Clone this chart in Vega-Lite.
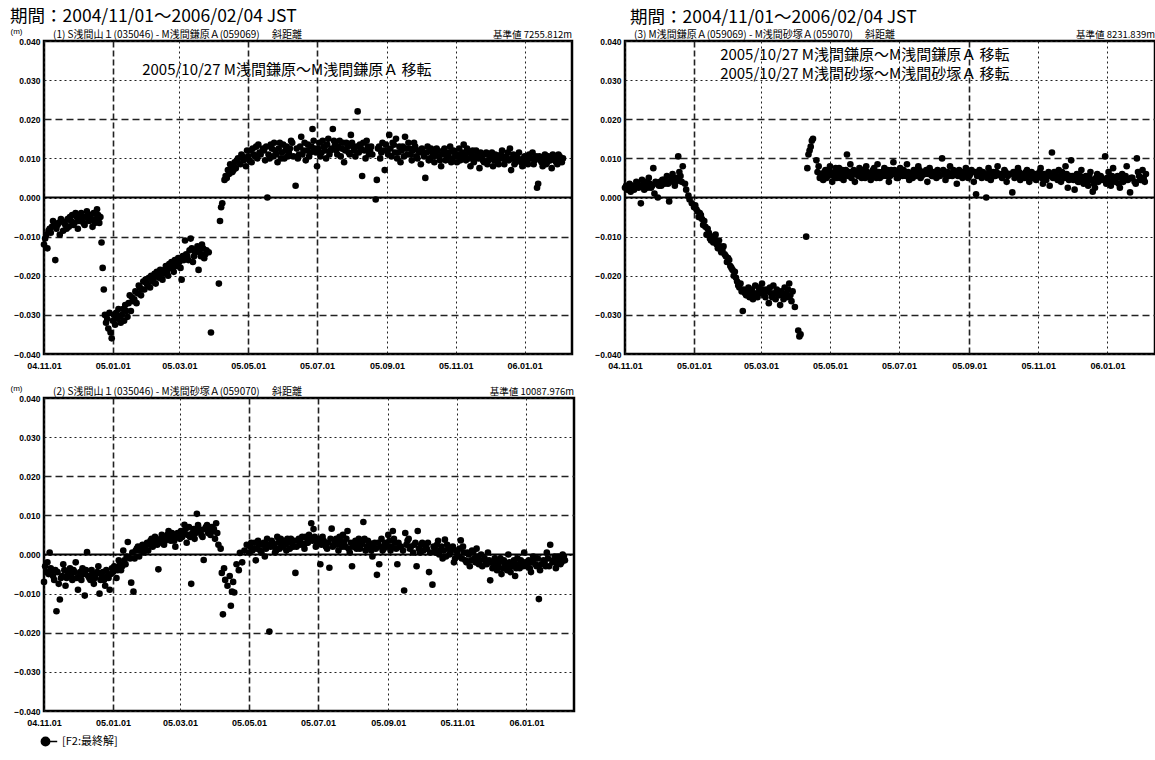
{
  "$schema": "https://vega.github.io/schema/vega-lite/v6.json",
  "background": "white",
  "padding": {"left": 8, "top": 6, "right": 2, "bottom": 2},
  "bounds": "flush",
  "columns": 2,
  "spacing": {"row": 44, "column": 51},
  "resolve": {"scale": {"x": "independent", "y": "independent", "color": "independent"}},
  "config": {
    "font": "Liberation Sans",
    "view": {"stroke": "black", "strokeWidth": 2.5},
    "axis": {"labelColor": "black", "labelFontSize": 8.5, "labelFont": "Liberation Sans", "labelFontWeight": "bold", "ticks": false, "domain": false, "grid": true, "gridColor": "#222", "gridWidth": 1, "labelPadding": 4},
    "axisX": {"labelPadding": 7, "labelFlush": false, "labelOverlap": false, "labelFontSize": 9},
    "axisY": {"labelOverlap": false, "tickCount": 12},
    "title": {"font": "Noto Sans CJK JP", "fontSize": 17.5, "fontWeight": "normal", "color": "black", "anchor": "start"}
  },
  "datasets": {
    "p1": [
      {"t":"2004-11-01","v":-0.0120},{"t":"2004-11-02","v":-0.0105},{"t":"2004-11-03","v":-0.0095},{"t":"2004-11-04","v":-0.0130},{"t":"2004-11-05","v":-0.0085},{"t":"2004-11-07","v":-0.0090},{"t":"2004-11-08","v":-0.0075},{"t":"2004-11-10","v":-0.0070},{"t":"2004-11-11","v":-0.0160},{"t":"2004-11-12","v":-0.0080},{"t":"2004-11-14","v":-0.0065},{"t":"2004-11-15","v":-0.0095},{"t":"2004-11-17","v":-0.0060},{"t":"2004-11-18","v":-0.0085},{"t":"2004-11-20","v":-0.0070},{"t":"2004-11-22","v":-0.0055},{"t":"2004-11-23","v":-0.0075},{"t":"2004-11-25","v":-0.0060},{"t":"2004-11-26","v":-0.0045},{"t":"2004-11-28","v":-0.0065},{"t":"2004-11-30","v":-0.0050},
      {"t":"2004-11-06","v":-0.0080},{"t":"2004-11-09","v":-0.0060},{"t":"2004-11-13","v":-0.0070},{"t":"2004-11-16","v":-0.0055},{"t":"2004-11-19","v":-0.0065},{"t":"2004-11-21","v":-0.0080},{"t":"2004-11-24","v":-0.0050},{"t":"2004-11-27","v":-0.0070},{"t":"2004-11-29","v":-0.0040},{"t":"2004-12-02","v":-0.0060},{"t":"2004-12-05","v":-0.0050},{"t":"2004-12-07","v":-0.0070},{"t":"2004-12-10","v":-0.0045},{"t":"2004-12-13","v":-0.0055},{"t":"2004-12-16","v":-0.0065},{"t":"2004-12-19","v":-0.0045},
      {"t":"2004-12-01","v":-0.0080},{"t":"2004-12-03","v":-0.0055},{"t":"2004-12-04","v":-0.0040},{"t":"2004-12-06","v":-0.0065},{"t":"2004-12-08","v":-0.0050},{"t":"2004-12-09","v":-0.0035},{"t":"2004-12-11","v":-0.0060},{"t":"2004-12-12","v":-0.0045},{"t":"2004-12-14","v":-0.0075},{"t":"2004-12-15","v":-0.0040},{"t":"2004-12-17","v":-0.0055},{"t":"2004-12-18","v":-0.0030},{"t":"2004-12-20","v":-0.0065},{"t":"2004-12-21","v":-0.0050},{"t":"2004-12-22","v":-0.0115},{"t":"2004-12-23","v":-0.0180},{"t":"2004-12-24","v":-0.0235},{"t":"2004-12-25","v":-0.0300},{"t":"2004-12-26","v":-0.0320},{"t":"2004-12-27","v":-0.0310},{"t":"2004-12-28","v":-0.0335},{"t":"2004-12-29","v":-0.0295},{"t":"2004-12-30","v":-0.0345},{"t":"2004-12-31","v":-0.0360},
      {"t":"2005-01-01","v":-0.0315},{"t":"2005-01-02","v":-0.0300},{"t":"2005-01-03","v":-0.0325},{"t":"2005-01-05","v":-0.0310},{"t":"2005-01-06","v":-0.0285},{"t":"2005-01-08","v":-0.0320},{"t":"2005-01-09","v":-0.0300},{"t":"2005-01-11","v":-0.0315},{"t":"2005-01-12","v":-0.0275},{"t":"2005-01-14","v":-0.0305},{"t":"2005-01-16","v":-0.0250},{"t":"2005-01-17","v":-0.0290},{"t":"2005-01-19","v":-0.0265},{"t":"2005-01-21","v":-0.0240},{"t":"2005-01-22","v":-0.0270},{"t":"2005-01-24","v":-0.0225},{"t":"2005-01-26","v":-0.0250},{"t":"2005-01-28","v":-0.0215},{"t":"2005-01-29","v":-0.0235},{"t":"2005-01-31","v":-0.0220},
      {"t":"2005-01-04","v":-0.0295},{"t":"2005-01-07","v":-0.0305},{"t":"2005-01-10","v":-0.0285},{"t":"2005-01-13","v":-0.0290},{"t":"2005-01-15","v":-0.0270},{"t":"2005-01-18","v":-0.0255},{"t":"2005-01-20","v":-0.0260},{"t":"2005-01-23","v":-0.0245},{"t":"2005-01-25","v":-0.0230},{"t":"2005-01-27","v":-0.0235},{"t":"2005-01-30","v":-0.0210},{"t":"2005-02-01","v":-0.0225},{"t":"2005-02-04","v":-0.0200},{"t":"2005-02-06","v":-0.0210},{"t":"2005-02-09","v":-0.0190},{"t":"2005-02-11","v":-0.0205},{"t":"2005-02-13","v":-0.0195},{"t":"2005-02-16","v":-0.0185},{"t":"2005-02-18","v":-0.0190},{"t":"2005-02-20","v":-0.0170},{"t":"2005-02-23","v":-0.0180},{"t":"2005-02-25","v":-0.0160},{"t":"2005-02-27","v":-0.0175},{"t":"2005-03-01","v":-0.0165},{"t":"2005-03-04","v":-0.0150},{"t":"2005-03-07","v":-0.0145},{"t":"2005-03-09","v":-0.0160},{"t":"2005-03-12","v":-0.0130},{"t":"2005-03-14","v":-0.0150},{"t":"2005-03-16","v":-0.0135},{"t":"2005-03-19","v":-0.0140},{"t":"2005-03-21","v":-0.0120},{"t":"2005-03-23","v":-0.0155},{"t":"2005-03-25","v":-0.0135},
      {"t":"2005-02-02","v":-0.0205},{"t":"2005-02-03","v":-0.0230},{"t":"2005-02-05","v":-0.0215},{"t":"2005-02-07","v":-0.0195},{"t":"2005-02-08","v":-0.0220},{"t":"2005-02-10","v":-0.0200},{"t":"2005-02-12","v":-0.0185},{"t":"2005-02-14","v":-0.0210},{"t":"2005-02-15","v":-0.0195},{"t":"2005-02-17","v":-0.0175},{"t":"2005-02-19","v":-0.0200},{"t":"2005-02-21","v":-0.0180},{"t":"2005-02-22","v":-0.0165},{"t":"2005-02-24","v":-0.0190},{"t":"2005-02-26","v":-0.0170},{"t":"2005-02-28","v":-0.0155},
      {"t":"2005-03-02","v":-0.0180},{"t":"2005-03-03","v":-0.0210},{"t":"2005-03-05","v":-0.0160},{"t":"2005-03-06","v":-0.0110},{"t":"2005-03-08","v":-0.0150},{"t":"2005-03-10","v":-0.0135},{"t":"2005-03-11","v":-0.0105},{"t":"2005-03-13","v":-0.0165},{"t":"2005-03-15","v":-0.0140},{"t":"2005-03-17","v":-0.0125},{"t":"2005-03-18","v":-0.0185},{"t":"2005-03-20","v":-0.0150},{"t":"2005-03-22","v":-0.0130},{"t":"2005-03-24","v":-0.0145},{"t":"2005-03-27","v":-0.0140},{"t":"2005-03-29","v":-0.0345},
      {"t":"2005-04-05","v":-0.0220},{"t":"2005-04-06","v":-0.0060},{"t":"2005-04-07","v":-0.0025},{"t":"2005-04-08","v":-0.0015},{"t":"2005-04-10","v":0.0045},{"t":"2005-04-11","v":0.0055},{"t":"2005-04-12","v":0.0050},{"t":"2005-04-13","v":0.0070},{"t":"2005-04-14","v":0.0060},{"t":"2005-04-16","v":0.0080},{"t":"2005-04-17","v":0.0065},{"t":"2005-04-19","v":0.0090},{"t":"2005-04-20","v":0.0075},{"t":"2005-04-22","v":0.0100},{"t":"2005-04-24","v":0.0085},{"t":"2005-04-25","v":0.0110},{"t":"2005-04-27","v":0.0095},{"t":"2005-04-29","v":0.0080},
      {"t":"2005-05-01","v":0.0105},{"t":"2005-05-03","v":0.0120},{"t":"2005-05-04","v":0.0090},{"t":"2005-05-06","v":0.0110},{"t":"2005-05-08","v":0.0130},{"t":"2005-05-09","v":0.0100},{"t":"2005-05-11","v":0.0115},{"t":"2005-05-14","v":0.0125},{"t":"2005-05-16","v":0.0095},{"t":"2005-05-18","v":0.0000},{"t":"2005-05-19","v":0.0110},{"t":"2005-05-21","v":0.0135},{"t":"2005-05-23","v":0.0105},{"t":"2005-05-25","v":0.0120},{"t":"2005-05-27","v":0.0090},{"t":"2005-05-29","v":0.0140},{"t":"2005-05-31","v":0.0115},
      {"t":"2005-06-02","v":0.0100},{"t":"2005-06-04","v":0.0130},{"t":"2005-06-06","v":0.0115},{"t":"2005-06-08","v":0.0145},{"t":"2005-06-10","v":0.0105},{"t":"2005-06-12","v":0.0030},{"t":"2005-06-13","v":0.0125},{"t":"2005-06-15","v":0.0110},{"t":"2005-06-17","v":0.0155},{"t":"2005-06-19","v":0.0120},{"t":"2005-06-21","v":0.0095},{"t":"2005-06-23","v":0.0135},{"t":"2005-06-25","v":0.0115},{"t":"2005-06-27","v":0.0175},{"t":"2005-06-29","v":0.0125},
      {"t":"2005-07-01","v":0.0080},{"t":"2005-07-03","v":0.0140},{"t":"2005-07-05","v":0.0115},{"t":"2005-07-07","v":0.0130},{"t":"2005-07-09","v":0.0100},{"t":"2005-07-11","v":0.0150},{"t":"2005-07-13","v":0.0120},{"t":"2005-07-15","v":0.0175},{"t":"2005-07-17","v":0.0135},{"t":"2005-07-19","v":0.0110},{"t":"2005-07-21","v":0.0145},{"t":"2005-07-23","v":0.0125},{"t":"2005-07-25","v":0.0090},{"t":"2005-07-27","v":0.0140},{"t":"2005-07-29","v":0.0115},{"t":"2005-07-31","v":0.0160},
      {"t":"2005-08-02","v":0.0130},{"t":"2005-08-04","v":0.0105},{"t":"2005-08-06","v":0.0220},{"t":"2005-08-08","v":0.0135},{"t":"2005-08-10","v":0.0055},{"t":"2005-08-12","v":0.0120},{"t":"2005-08-14","v":0.0145},{"t":"2005-08-16","v":0.0110},{"t":"2005-08-18","v":0.0130},{"t":"2005-08-22","v":-0.0005},{"t":"2005-08-23","v":0.0045},{"t":"2005-08-24","v":0.0125},{"t":"2005-08-26","v":0.0100},{"t":"2005-08-28","v":0.0140},{"t":"2005-08-30","v":0.0070},
      {"t":"2005-09-01","v":0.0120},{"t":"2005-09-03","v":0.0160},{"t":"2005-09-05","v":0.0105},{"t":"2005-09-07","v":0.0135},{"t":"2005-09-09","v":0.0150},{"t":"2005-09-11","v":0.0115},{"t":"2005-09-13","v":0.0090},{"t":"2005-09-15","v":0.0130},{"t":"2005-09-17","v":0.0155},{"t":"2005-09-19","v":0.0110},{"t":"2005-09-21","v":0.0125},{"t":"2005-09-23","v":0.0095},{"t":"2005-09-25","v":0.0140},{"t":"2005-09-27","v":0.0105},{"t":"2005-09-29","v":0.0120},
      {"t":"2005-10-01","v":0.0085},{"t":"2005-10-03","v":0.0115},{"t":"2005-10-05","v":0.0050},{"t":"2005-10-07","v":0.0130},{"t":"2005-10-09","v":0.0100},{"t":"2005-10-11","v":0.0115},{"t":"2005-10-13","v":0.0090},{"t":"2005-10-15","v":0.0125},{"t":"2005-10-17","v":0.0105},{"t":"2005-10-19","v":0.0080},{"t":"2005-10-21","v":0.0120},{"t":"2005-10-23","v":0.0095},{"t":"2005-10-25","v":0.0110},{"t":"2005-10-27","v":0.0130},{"t":"2005-10-29","v":0.0100},{"t":"2005-10-31","v":0.0115},
      {"t":"2005-11-02","v":0.0090},{"t":"2005-11-04","v":0.0125},{"t":"2005-11-06","v":0.0105},{"t":"2005-11-08","v":0.0135},{"t":"2005-11-10","v":0.0095},{"t":"2005-11-12","v":0.0115},{"t":"2005-11-14","v":0.0080},{"t":"2005-11-16","v":0.0120},{"t":"2005-11-18","v":0.0100},{"t":"2005-11-20","v":0.0110},{"t":"2005-11-22","v":0.0075},{"t":"2005-11-24","v":0.0105},{"t":"2005-11-26","v":0.0090},{"t":"2005-11-28","v":0.0115},{"t":"2005-11-30","v":0.0095},
      {"t":"2005-12-02","v":0.0105},{"t":"2005-12-04","v":0.0080},{"t":"2005-12-06","v":0.0110},{"t":"2005-12-08","v":0.0090},{"t":"2005-12-10","v":0.0100},{"t":"2005-12-12","v":0.0120},{"t":"2005-12-14","v":0.0085},{"t":"2005-12-16","v":0.0105},{"t":"2005-12-18","v":0.0095},{"t":"2005-12-19","v":0.0125},{"t":"2005-12-20","v":0.0070},{"t":"2005-12-22","v":0.0110},{"t":"2005-12-24","v":0.0090},{"t":"2005-12-26","v":0.0100},{"t":"2005-12-28","v":0.0095},{"t":"2005-12-30","v":0.0080},
      {"t":"2006-01-01","v":0.0105},{"t":"2006-01-03","v":0.0090},{"t":"2006-01-05","v":0.0110},{"t":"2006-01-07","v":0.0100},{"t":"2006-01-09","v":0.0085},{"t":"2006-01-11","v":0.0105},{"t":"2006-01-12","v":0.0025},{"t":"2006-01-13","v":0.0035},{"t":"2006-01-15","v":0.0095},{"t":"2006-01-17","v":0.0080},{"t":"2006-01-19","v":0.0110},{"t":"2006-01-21","v":0.0090},{"t":"2006-01-23","v":0.0100},{"t":"2006-01-25","v":0.0075},{"t":"2006-01-27","v":0.0105},{"t":"2006-01-29","v":0.0090},{"t":"2006-01-31","v":0.0110},{"t":"2006-02-02","v":0.0095},{"t":"2006-02-04","v":0.0100},
      {"t":"2005-04-15","v":0.0085},{"t":"2005-04-18","v":0.0070},{"t":"2005-04-21","v":0.0095},{"t":"2005-04-26","v":0.0105},{"t":"2005-04-30","v":0.0120},{"t":"2005-05-02","v":0.0095},{"t":"2005-05-05","v":0.0125},{"t":"2005-05-07","v":0.0105},{"t":"2005-05-10","v":0.0135},{"t":"2005-05-12","v":0.0110},{"t":"2005-05-15","v":0.0120},{"t":"2005-05-17","v":0.0130},{"t":"2005-05-20","v":0.0100},{"t":"2005-05-22","v":0.0125},{"t":"2005-05-24","v":0.0140},{"t":"2005-05-26","v":0.0110},{"t":"2005-05-28","v":0.0125},{"t":"2005-05-30","v":0.0100},
      {"t":"2005-06-01","v":0.0135},{"t":"2005-06-03","v":0.0120},{"t":"2005-06-05","v":0.0105},{"t":"2005-06-07","v":0.0125},{"t":"2005-06-09","v":0.0140},{"t":"2005-06-14","v":0.0100},{"t":"2005-06-16","v":0.0130},{"t":"2005-06-18","v":0.0110},{"t":"2005-06-20","v":0.0140},{"t":"2005-06-22","v":0.0120},{"t":"2005-06-24","v":0.0105},{"t":"2005-06-26","v":0.0130},{"t":"2005-06-28","v":0.0145},{"t":"2005-06-30","v":0.0115},
      {"t":"2005-07-02","v":0.0125},{"t":"2005-07-04","v":0.0105},{"t":"2005-07-06","v":0.0145},{"t":"2005-07-08","v":0.0120},{"t":"2005-07-10","v":0.0135},{"t":"2005-07-12","v":0.0110},{"t":"2005-07-14","v":0.0125},{"t":"2005-07-16","v":0.0145},{"t":"2005-07-18","v":0.0120},{"t":"2005-07-20","v":0.0130},{"t":"2005-07-22","v":0.0105},{"t":"2005-07-24","v":0.0140},{"t":"2005-07-26","v":0.0120},{"t":"2005-07-28","v":0.0130},{"t":"2005-07-30","v":0.0110},
      {"t":"2005-08-01","v":0.0140},{"t":"2005-08-03","v":0.0120},{"t":"2005-08-05","v":0.0130},{"t":"2005-08-07","v":0.0115},{"t":"2005-08-09","v":0.0125},{"t":"2005-08-11","v":0.0140},{"t":"2005-08-13","v":0.0100},{"t":"2005-08-15","v":0.0130},{"t":"2005-08-17","v":0.0120},{"t":"2005-08-19","v":0.0110},{"t":"2005-08-25","v":0.0130},{"t":"2005-08-27","v":0.0115},{"t":"2005-08-29","v":0.0120},{"t":"2005-08-31","v":0.0135},
      {"t":"2005-09-02","v":0.0110},{"t":"2005-09-04","v":0.0125},{"t":"2005-09-06","v":0.0140},{"t":"2005-09-08","v":0.0115},{"t":"2005-09-10","v":0.0100},{"t":"2005-09-12","v":0.0130},{"t":"2005-09-14","v":0.0120},{"t":"2005-09-16","v":0.0105},{"t":"2005-09-18","v":0.0125},{"t":"2005-09-20","v":0.0140},{"t":"2005-09-22","v":0.0110},{"t":"2005-09-24","v":0.0120},{"t":"2005-09-26","v":0.0130},{"t":"2005-09-28","v":0.0100},{"t":"2005-09-30","v":0.0115},
      {"t":"2005-10-02","v":0.0125},{"t":"2005-10-04","v":0.0105},{"t":"2005-10-06","v":0.0115},{"t":"2005-10-08","v":0.0095},{"t":"2005-10-10","v":0.0125},{"t":"2005-10-12","v":0.0105},{"t":"2005-10-14","v":0.0110},{"t":"2005-10-16","v":0.0120},{"t":"2005-10-18","v":0.0095},{"t":"2005-10-20","v":0.0110},{"t":"2005-10-22","v":0.0125},{"t":"2005-10-24","v":0.0100},{"t":"2005-10-26","v":0.0115},{"t":"2005-10-28","v":0.0090},{"t":"2005-10-30","v":0.0120},
      {"t":"2005-11-01","v":0.0105},{"t":"2005-11-03","v":0.0110},{"t":"2005-11-05","v":0.0095},{"t":"2005-11-07","v":0.0115},{"t":"2005-11-09","v":0.0105},{"t":"2005-11-11","v":0.0125},{"t":"2005-11-13","v":0.0100},{"t":"2005-11-15","v":0.0110},{"t":"2005-11-17","v":0.0090},{"t":"2005-11-19","v":0.0120},{"t":"2005-11-21","v":0.0100},{"t":"2005-11-23","v":0.0115},{"t":"2005-11-25","v":0.0095},{"t":"2005-11-27","v":0.0110},{"t":"2005-11-29","v":0.0085},
      {"t":"2005-12-01","v":0.0100},{"t":"2005-12-03","v":0.0115},{"t":"2005-12-05","v":0.0095},{"t":"2005-12-07","v":0.0105},{"t":"2005-12-09","v":0.0085},{"t":"2005-12-11","v":0.0110},{"t":"2005-12-13","v":0.0100},{"t":"2005-12-15","v":0.0095},{"t":"2005-12-17","v":0.0115},{"t":"2005-12-21","v":0.0100},{"t":"2005-12-23","v":0.0085},{"t":"2005-12-25","v":0.0105},{"t":"2005-12-27","v":0.0115},{"t":"2005-12-29","v":0.0090},{"t":"2005-12-31","v":0.0100},
      {"t":"2006-01-02","v":0.0095},{"t":"2006-01-04","v":0.0085},{"t":"2006-01-06","v":0.0100},{"t":"2006-01-08","v":0.0115},{"t":"2006-01-10","v":0.0095},{"t":"2006-01-14","v":0.0105},{"t":"2006-01-16","v":0.0090},{"t":"2006-01-18","v":0.0100},{"t":"2006-01-20","v":0.0085},{"t":"2006-01-22","v":0.0105},{"t":"2006-01-24","v":0.0095},{"t":"2006-01-26","v":0.0110},{"t":"2006-01-28","v":0.0100},{"t":"2006-01-30","v":0.0085},{"t":"2006-02-01","v":0.0105},{"t":"2006-02-03","v":0.0090}
    ],
    "p3": [
      {"t":"2004-11-01","v":0.0025},{"t":"2004-11-02","v":0.0030},{"t":"2004-11-03","v":0.0020},{"t":"2004-11-05","v":0.0035},{"t":"2004-11-06","v":0.0015},{"t":"2004-11-08","v":0.0030},{"t":"2004-11-10","v":0.0025},{"t":"2004-11-11","v":0.0040},{"t":"2004-11-14","v":0.0030},{"t":"2004-11-15","v":-0.0015},{"t":"2004-11-16","v":0.0045},{"t":"2004-11-18","v":0.0020},{"t":"2004-11-20","v":0.0035},{"t":"2004-11-22","v":0.0050},{"t":"2004-11-24","v":0.0025},{"t":"2004-11-26","v":0.0075},{"t":"2004-11-27","v":0.0010},{"t":"2004-11-28","v":0.0040},{"t":"2004-11-30","v":0.0000},
      {"t":"2004-11-04","v":0.0025},{"t":"2004-11-07","v":0.0030},{"t":"2004-11-09","v":0.0020},{"t":"2004-11-12","v":0.0035},{"t":"2004-11-13","v":0.0025},{"t":"2004-11-17","v":0.0030},{"t":"2004-11-19","v":0.0040},{"t":"2004-11-21","v":0.0025},{"t":"2004-11-23","v":0.0035},{"t":"2004-11-25","v":0.0030},{"t":"2004-11-29","v":0.0035},{"t":"2004-12-02","v":0.0040},{"t":"2004-12-03","v":0.0030},{"t":"2004-12-05","v":0.0045},{"t":"2004-12-07","v":0.0040},{"t":"2004-12-09","v":0.0035},{"t":"2004-12-12","v":0.0050},{"t":"2004-12-14","v":0.0045},{"t":"2004-12-16","v":0.0040},{"t":"2004-12-20","v":0.0055},
      {"t":"2004-12-01","v":0.0030},{"t":"2004-12-04","v":0.0045},{"t":"2004-12-06","v":0.0035},{"t":"2004-12-08","v":0.0055},{"t":"2004-12-10","v":-0.0010},{"t":"2004-12-11","v":0.0040},{"t":"2004-12-13","v":0.0060},{"t":"2004-12-15","v":0.0030},{"t":"2004-12-17","v":0.0050},{"t":"2004-12-18","v":0.0105},{"t":"2004-12-19","v":0.0065},{"t":"2004-12-21","v":0.0040},{"t":"2004-12-22","v":0.0080},{"t":"2004-12-24","v":0.0035},{"t":"2004-12-25","v":0.0020},{"t":"2004-12-27","v":0.0005},{"t":"2004-12-28","v":-0.0005},{"t":"2004-12-30","v":-0.0015},
      {"t":"2005-01-01","v":-0.0025},{"t":"2005-01-02","v":-0.0020},{"t":"2005-01-04","v":-0.0035},{"t":"2005-01-05","v":-0.0050},{"t":"2005-01-07","v":-0.0045},{"t":"2005-01-09","v":-0.0070},{"t":"2005-01-10","v":-0.0060},{"t":"2005-01-12","v":-0.0095},{"t":"2005-01-13","v":-0.0080},{"t":"2005-01-15","v":-0.0105},{"t":"2005-01-17","v":-0.0100},{"t":"2005-01-18","v":-0.0115},{"t":"2005-01-20","v":-0.0095},{"t":"2005-01-22","v":-0.0130},{"t":"2005-01-23","v":-0.0110},{"t":"2005-01-25","v":-0.0140},{"t":"2005-01-27","v":-0.0125},{"t":"2005-01-29","v":-0.0150},{"t":"2005-01-30","v":-0.0165},
      {"t":"2005-01-03","v":-0.0030},{"t":"2005-01-06","v":-0.0040},{"t":"2005-01-08","v":-0.0055},{"t":"2005-01-11","v":-0.0075},{"t":"2005-01-14","v":-0.0090},{"t":"2005-01-16","v":-0.0110},{"t":"2005-01-19","v":-0.0105},{"t":"2005-01-21","v":-0.0120},{"t":"2005-01-24","v":-0.0125},{"t":"2005-01-26","v":-0.0135},{"t":"2005-01-28","v":-0.0145},{"t":"2005-01-31","v":-0.0155},
      {"t":"2005-02-01","v":-0.0160},{"t":"2005-02-02","v":-0.0175},{"t":"2005-02-04","v":-0.0185},{"t":"2005-02-06","v":-0.0190},{"t":"2005-02-08","v":-0.0215},{"t":"2005-02-09","v":-0.0225},{"t":"2005-02-11","v":-0.0220},{"t":"2005-02-12","v":-0.0240},{"t":"2005-02-13","v":-0.0290},{"t":"2005-02-14","v":-0.0235},{"t":"2005-02-16","v":-0.0250},{"t":"2005-02-18","v":-0.0230},{"t":"2005-02-20","v":-0.0245},{"t":"2005-02-22","v":-0.0260},{"t":"2005-02-24","v":-0.0225},{"t":"2005-02-26","v":-0.0255},{"t":"2005-02-28","v":-0.0240},
      {"t":"2005-02-03","v":-0.0180},{"t":"2005-02-05","v":-0.0200},{"t":"2005-02-07","v":-0.0205},{"t":"2005-02-10","v":-0.0230},{"t":"2005-02-15","v":-0.0245},{"t":"2005-02-17","v":-0.0240},{"t":"2005-02-19","v":-0.0255},{"t":"2005-02-21","v":-0.0235},{"t":"2005-02-23","v":-0.0250},{"t":"2005-02-25","v":-0.0245},{"t":"2005-02-27","v":-0.0230},{"t":"2005-03-01","v":-0.0245},{"t":"2005-03-03","v":-0.0235},{"t":"2005-03-05","v":-0.0255},{"t":"2005-03-07","v":-0.0240},{"t":"2005-03-09","v":-0.0230},{"t":"2005-03-11","v":-0.0255},{"t":"2005-03-13","v":-0.0245},{"t":"2005-03-15","v":-0.0235},{"t":"2005-03-17","v":-0.0250},{"t":"2005-03-19","v":-0.0240},{"t":"2005-03-21","v":-0.0260},{"t":"2005-03-23","v":-0.0245},{"t":"2005-03-25","v":-0.0235},{"t":"2005-03-27","v":-0.0250},{"t":"2005-03-29","v":-0.0240},
      {"t":"2005-03-02","v":-0.0220},{"t":"2005-03-04","v":-0.0250},{"t":"2005-03-06","v":-0.0235},{"t":"2005-03-08","v":-0.0270},{"t":"2005-03-10","v":-0.0245},{"t":"2005-03-12","v":-0.0225},{"t":"2005-03-14","v":-0.0260},{"t":"2005-03-16","v":-0.0240},{"t":"2005-03-18","v":-0.0275},{"t":"2005-03-20","v":-0.0250},{"t":"2005-03-22","v":-0.0230},{"t":"2005-03-24","v":-0.0255},{"t":"2005-03-26","v":-0.0220},{"t":"2005-03-28","v":-0.0265},{"t":"2005-03-31","v":-0.0280},
      {"t":"2005-04-03","v":-0.0340},{"t":"2005-04-04","v":-0.0355},{"t":"2005-04-05","v":-0.0350},{"t":"2005-04-10","v":-0.0100},{"t":"2005-04-11","v":0.0075},{"t":"2005-04-12","v":0.0110},{"t":"2005-04-13","v":0.0120},{"t":"2005-04-14","v":0.0130},{"t":"2005-04-15","v":0.0145},{"t":"2005-04-16","v":0.0150},{"t":"2005-04-19","v":0.0095},{"t":"2005-04-20","v":0.0065},{"t":"2005-04-21","v":0.0080},{"t":"2005-04-22","v":0.0050},{"t":"2005-04-23","v":0.0060},{"t":"2005-04-25","v":0.0045},{"t":"2005-04-27","v":0.0070},{"t":"2005-04-29","v":0.0055},
      {"t":"2005-05-01","v":0.0080},{"t":"2005-05-03","v":0.0040},{"t":"2005-05-05","v":0.0065},{"t":"2005-05-07","v":0.0050},{"t":"2005-05-09","v":0.0075},{"t":"2005-05-11","v":0.0060},{"t":"2005-05-13","v":0.0045},{"t":"2005-05-15","v":0.0070},{"t":"2005-05-16","v":0.0110},{"t":"2005-05-17","v":0.0055},{"t":"2005-05-19","v":0.0085},{"t":"2005-05-21","v":0.0060},{"t":"2005-05-23","v":0.0040},{"t":"2005-05-25","v":0.0065},{"t":"2005-05-27","v":0.0075},{"t":"2005-05-29","v":0.0050},{"t":"2005-05-31","v":0.0060},
      {"t":"2005-06-02","v":0.0080},{"t":"2005-06-04","v":0.0055},{"t":"2005-06-06","v":0.0045},{"t":"2005-06-08","v":0.0070},{"t":"2005-06-10","v":0.0060},{"t":"2005-06-12","v":0.0085},{"t":"2005-06-14","v":0.0050},{"t":"2005-06-16","v":0.0065},{"t":"2005-06-18","v":0.0075},{"t":"2005-06-20","v":0.0055},{"t":"2005-06-22","v":0.0040},{"t":"2005-06-24","v":0.0070},{"t":"2005-06-26","v":0.0090},{"t":"2005-06-28","v":0.0060},{"t":"2005-06-30","v":0.0050},
      {"t":"2005-07-02","v":0.0075},{"t":"2005-07-04","v":0.0055},{"t":"2005-07-06","v":0.0065},{"t":"2005-07-08","v":0.0085},{"t":"2005-07-10","v":0.0045},{"t":"2005-07-12","v":0.0060},{"t":"2005-07-14","v":0.0070},{"t":"2005-07-16","v":0.0055},{"t":"2005-07-18","v":0.0080},{"t":"2005-07-20","v":0.0050},{"t":"2005-07-22","v":0.0065},{"t":"2005-07-24","v":0.0060},{"t":"2005-07-26","v":0.0040},{"t":"2005-07-28","v":0.0075},{"t":"2005-07-30","v":0.0055},
      {"t":"2005-08-01","v":0.0065},{"t":"2005-08-03","v":0.0050},{"t":"2005-08-05","v":0.0060},{"t":"2005-08-08","v":0.0100},{"t":"2005-08-09","v":0.0070},{"t":"2005-08-11","v":0.0045},{"t":"2005-08-13","v":0.0065},{"t":"2005-08-15","v":0.0080},{"t":"2005-08-17","v":0.0055},{"t":"2005-08-19","v":0.0060},{"t":"2005-08-21","v":0.0035},{"t":"2005-08-23","v":0.0070},{"t":"2005-08-25","v":0.0055},{"t":"2005-08-27","v":0.0065},{"t":"2005-08-29","v":0.0075},{"t":"2005-08-31","v":0.0050},
      {"t":"2005-09-02","v":0.0060},{"t":"2005-09-05","v":0.0040},{"t":"2005-09-06","v":0.0065},{"t":"2005-09-07","v":0.0008},{"t":"2005-09-08","v":0.0055},{"t":"2005-09-10","v":0.0070},{"t":"2005-09-12","v":0.0050},{"t":"2005-09-14","v":0.0060},{"t":"2005-09-16","v":0.0000},{"t":"2005-09-18","v":0.0075},{"t":"2005-09-20","v":0.0045},{"t":"2005-09-22","v":0.0065},{"t":"2005-09-24","v":0.0055},{"t":"2005-09-26","v":0.0080},{"t":"2005-09-28","v":0.0060},{"t":"2005-09-30","v":0.0050},
      {"t":"2005-10-02","v":0.0070},{"t":"2005-10-04","v":0.0040},{"t":"2005-10-06","v":0.0060},{"t":"2005-10-09","v":0.0013},{"t":"2005-10-10","v":0.0065},{"t":"2005-10-12","v":0.0055},{"t":"2005-10-14","v":0.0075},{"t":"2005-10-16","v":0.0045},{"t":"2005-10-18","v":0.0060},{"t":"2005-10-20","v":0.0050},{"t":"2005-10-22","v":0.0070},{"t":"2005-10-24","v":0.0040},{"t":"2005-10-26","v":0.0065},{"t":"2005-10-28","v":0.0055},{"t":"2005-10-30","v":0.0045},
      {"t":"2005-11-01","v":0.0060},{"t":"2005-11-03","v":0.0075},{"t":"2005-11-05","v":0.0035},{"t":"2005-11-07","v":0.0055},{"t":"2005-11-11","v":0.0030},{"t":"2005-11-13","v":0.0115},{"t":"2005-11-15","v":0.0065},{"t":"2005-11-17","v":0.0050},{"t":"2005-11-19","v":0.0070},{"t":"2005-11-21","v":0.0040},{"t":"2005-11-23","v":0.0060},{"t":"2005-11-25","v":0.0080},{"t":"2005-11-27","v":0.0025},{"t":"2005-11-29","v":0.0055},{"t":"2005-11-30","v":0.0095},
      {"t":"2005-12-03","v":0.0020},{"t":"2005-12-05","v":0.0060},{"t":"2005-12-07","v":0.0040},{"t":"2005-12-09","v":0.0070},{"t":"2005-12-11","v":0.0035},{"t":"2005-12-13","v":0.0055},{"t":"2005-12-15","v":0.0030},{"t":"2005-12-17","v":0.0065},{"t":"2005-12-19","v":0.0015},{"t":"2005-12-21","v":0.0025},{"t":"2005-12-23","v":0.0060},{"t":"2005-12-25","v":0.0045},{"t":"2005-12-27","v":0.0050},{"t":"2005-12-30","v":0.0105},{"t":"2005-12-31","v":0.0035},
      {"t":"2006-01-02","v":0.0065},{"t":"2006-01-04","v":0.0030},{"t":"2006-01-06","v":0.0075},{"t":"2006-01-08","v":0.0040},{"t":"2006-01-10","v":0.0055},{"t":"2006-01-12","v":0.0025},{"t":"2006-01-14","v":0.0060},{"t":"2006-01-16","v":0.0045},{"t":"2006-01-18","v":0.0080},{"t":"2006-01-21","v":0.0013},{"t":"2006-01-22","v":0.0050},{"t":"2006-01-26","v":0.0035},{"t":"2006-01-27","v":0.0100},{"t":"2006-01-28","v":0.0065},{"t":"2006-01-30","v":0.0045},{"t":"2006-02-01","v":0.0070},{"t":"2006-02-03","v":0.0040},{"t":"2006-02-04","v":0.0060},
      {"t":"2005-04-24","v":0.0055},{"t":"2005-04-26","v":0.0065},{"t":"2005-04-28","v":0.0050},{"t":"2005-04-30","v":0.0070},{"t":"2005-05-02","v":0.0060},{"t":"2005-05-04","v":0.0055},{"t":"2005-05-06","v":0.0075},{"t":"2005-05-08","v":0.0060},{"t":"2005-05-10","v":0.0050},{"t":"2005-05-12","v":0.0070},{"t":"2005-05-14","v":0.0060},{"t":"2005-05-18","v":0.0065},{"t":"2005-05-20","v":0.0050},{"t":"2005-05-22","v":0.0070},{"t":"2005-05-24","v":0.0060},{"t":"2005-05-26","v":0.0055},{"t":"2005-05-28","v":0.0065},{"t":"2005-05-30","v":0.0070},
      {"t":"2005-06-01","v":0.0050},{"t":"2005-06-03","v":0.0065},{"t":"2005-06-05","v":0.0060},{"t":"2005-06-07","v":0.0055},{"t":"2005-06-09","v":0.0075},{"t":"2005-06-11","v":0.0050},{"t":"2005-06-13","v":0.0065},{"t":"2005-06-15","v":0.0060},{"t":"2005-06-17","v":0.0055},{"t":"2005-06-19","v":0.0065},{"t":"2005-06-21","v":0.0070},{"t":"2005-06-23","v":0.0055},{"t":"2005-06-25","v":0.0060},{"t":"2005-06-27","v":0.0070},{"t":"2005-06-29","v":0.0050},
      {"t":"2005-07-01","v":0.0065},{"t":"2005-07-03","v":0.0060},{"t":"2005-07-05","v":0.0070},{"t":"2005-07-07","v":0.0055},{"t":"2005-07-09","v":0.0065},{"t":"2005-07-11","v":0.0060},{"t":"2005-07-13","v":0.0050},{"t":"2005-07-15","v":0.0065},{"t":"2005-07-17","v":0.0060},{"t":"2005-07-19","v":0.0070},{"t":"2005-07-21","v":0.0055},{"t":"2005-07-23","v":0.0060},{"t":"2005-07-25","v":0.0070},{"t":"2005-07-27","v":0.0060},{"t":"2005-07-29","v":0.0065},{"t":"2005-07-31","v":0.0055},
      {"t":"2005-08-02","v":0.0060},{"t":"2005-08-04","v":0.0070},{"t":"2005-08-06","v":0.0055},{"t":"2005-08-10","v":0.0060},{"t":"2005-08-12","v":0.0065},{"t":"2005-08-14","v":0.0055},{"t":"2005-08-16","v":0.0060},{"t":"2005-08-18","v":0.0070},{"t":"2005-08-20","v":0.0060},{"t":"2005-08-22","v":0.0055},{"t":"2005-08-24","v":0.0065},{"t":"2005-08-26","v":0.0050},{"t":"2005-08-28","v":0.0060},{"t":"2005-08-30","v":0.0065},
      {"t":"2005-09-01","v":0.0055},{"t":"2005-09-03","v":0.0070},{"t":"2005-09-09","v":0.0060},{"t":"2005-09-11","v":0.0055},{"t":"2005-09-13","v":0.0065},{"t":"2005-09-15","v":0.0060},{"t":"2005-09-17","v":0.0050},{"t":"2005-09-19","v":0.0065},{"t":"2005-09-21","v":0.0060},{"t":"2005-09-23","v":0.0055},{"t":"2005-09-25","v":0.0065},{"t":"2005-09-27","v":0.0060},{"t":"2005-09-29","v":0.0055},
      {"t":"2005-10-01","v":0.0060},{"t":"2005-10-03","v":0.0065},{"t":"2005-10-05","v":0.0055},{"t":"2005-10-07","v":0.0060},{"t":"2005-10-11","v":0.0050},{"t":"2005-10-13","v":0.0060},{"t":"2005-10-15","v":0.0065},{"t":"2005-10-17","v":0.0055},{"t":"2005-10-19","v":0.0060},{"t":"2005-10-21","v":0.0065},{"t":"2005-10-23","v":0.0055},{"t":"2005-10-25","v":0.0060},{"t":"2005-10-27","v":0.0050},{"t":"2005-10-29","v":0.0060},{"t":"2005-10-31","v":0.0055},
      {"t":"2005-11-02","v":0.0065},{"t":"2005-11-04","v":0.0050},{"t":"2005-11-06","v":0.0060},{"t":"2005-11-08","v":0.0045},{"t":"2005-11-10","v":0.0065},{"t":"2005-11-12","v":0.0055},{"t":"2005-11-14","v":0.0050},{"t":"2005-11-16","v":0.0060},{"t":"2005-11-18","v":0.0045},{"t":"2005-11-20","v":0.0055},{"t":"2005-11-22","v":0.0065},{"t":"2005-11-24","v":0.0050},{"t":"2005-11-26","v":0.0060},{"t":"2005-11-28","v":0.0045},
      {"t":"2005-12-01","v":0.0055},{"t":"2005-12-02","v":0.0045},{"t":"2005-12-04","v":0.0050},{"t":"2005-12-06","v":0.0040},{"t":"2005-12-08","v":0.0055},{"t":"2005-12-10","v":0.0045},{"t":"2005-12-12","v":0.0050},{"t":"2005-12-14","v":0.0040},{"t":"2005-12-16","v":0.0055},{"t":"2005-12-18","v":0.0045},{"t":"2005-12-20","v":0.0035},{"t":"2005-12-22","v":0.0050},{"t":"2005-12-24","v":0.0040},{"t":"2005-12-26","v":0.0055},{"t":"2005-12-28","v":0.0045},
      {"t":"2006-01-01","v":0.0050},{"t":"2006-01-03","v":0.0040},{"t":"2006-01-05","v":0.0055},{"t":"2006-01-07","v":0.0045},{"t":"2006-01-09","v":0.0050},{"t":"2006-01-11","v":0.0035},{"t":"2006-01-13","v":0.0050},{"t":"2006-01-15","v":0.0040},{"t":"2006-01-17","v":0.0055},{"t":"2006-01-19","v":0.0045},{"t":"2006-01-23","v":0.0050},{"t":"2006-01-25","v":0.0040},{"t":"2006-01-29","v":0.0055},{"t":"2006-01-31","v":0.0045},{"t":"2006-02-02","v":0.0050}
    ],
    "p2": [
      {"t":"2004-11-01","v":-0.0070},{"t":"2004-11-02","v":-0.0030},{"t":"2004-11-03","v":-0.0045},{"t":"2004-11-04","v":-0.0020},{"t":"2004-11-06","v":0.0005},{"t":"2004-11-07","v":-0.0035},{"t":"2004-11-09","v":-0.0055},{"t":"2004-11-11","v":-0.0040},{"t":"2004-11-12","v":-0.0145},{"t":"2004-11-14","v":-0.0075},{"t":"2004-11-15","v":-0.0115},{"t":"2004-11-16","v":-0.0060},{"t":"2004-11-18","v":-0.0025},{"t":"2004-11-20","v":-0.0080},{"t":"2004-11-22","v":-0.0050},{"t":"2004-11-24","v":-0.0035},{"t":"2004-11-26","v":-0.0065},{"t":"2004-11-28","v":-0.0045},{"t":"2004-11-29","v":-0.0020},
      {"t":"2004-11-05","v":-0.0050},{"t":"2004-11-08","v":-0.0040},{"t":"2004-11-10","v":-0.0065},{"t":"2004-11-13","v":-0.0045},{"t":"2004-11-17","v":-0.0055},{"t":"2004-11-19","v":-0.0040},{"t":"2004-11-21","v":-0.0060},{"t":"2004-11-23","v":-0.0045},{"t":"2004-11-25","v":-0.0055},{"t":"2004-11-27","v":-0.0040},{"t":"2004-11-30","v":-0.0060},{"t":"2004-12-03","v":-0.0045},{"t":"2004-12-04","v":-0.0065},{"t":"2004-12-06","v":-0.0050},{"t":"2004-12-08","v":-0.0040},{"t":"2004-12-10","v":-0.0055},{"t":"2004-12-12","v":-0.0065},{"t":"2004-12-14","v":-0.0050},{"t":"2004-12-16","v":-0.0060},{"t":"2004-12-18","v":-0.0045},{"t":"2004-12-22","v":-0.0055},{"t":"2004-12-24","v":-0.0065},{"t":"2004-12-26","v":-0.0040},{"t":"2004-12-28","v":-0.0060},{"t":"2004-12-30","v":-0.0050},
      {"t":"2004-12-01","v":-0.0090},{"t":"2004-12-02","v":-0.0055},{"t":"2004-12-05","v":-0.0035},{"t":"2004-12-07","v":-0.0105},{"t":"2004-12-09","v":0.0006},{"t":"2004-12-11","v":-0.0060},{"t":"2004-12-13","v":-0.0040},{"t":"2004-12-15","v":-0.0075},{"t":"2004-12-17","v":-0.0050},{"t":"2004-12-19","v":-0.0030},{"t":"2004-12-20","v":-0.0100},{"t":"2004-12-21","v":-0.0065},{"t":"2004-12-23","v":-0.0045},{"t":"2004-12-25","v":-0.0080},{"t":"2004-12-27","v":-0.0055},{"t":"2004-12-29","v":-0.0090},{"t":"2004-12-31","v":-0.0035},
      {"t":"2005-01-02","v":-0.0030},{"t":"2005-01-04","v":-0.0060},{"t":"2005-01-06","v":-0.0015},{"t":"2005-01-08","v":-0.0040},{"t":"2005-01-10","v":0.0010},{"t":"2005-01-12","v":-0.0025},{"t":"2005-01-14","v":0.0032},{"t":"2005-01-17","v":-0.0072},{"t":"2005-01-19","v":-0.0095},{"t":"2005-01-20","v":-0.0010},{"t":"2005-01-22","v":0.0015},{"t":"2005-01-24","v":-0.0005},{"t":"2005-01-26","v":0.0020},{"t":"2005-01-28","v":0.0005},{"t":"2005-01-30","v":0.0025},
      {"t":"2005-01-01","v":-0.0045},{"t":"2005-01-03","v":-0.0035},{"t":"2005-01-05","v":-0.0040},{"t":"2005-01-07","v":-0.0025},{"t":"2005-01-09","v":-0.0030},{"t":"2005-01-11","v":-0.0015},{"t":"2005-01-13","v":-0.0005},{"t":"2005-01-16","v":-0.0010},{"t":"2005-01-18","v":0.0005},{"t":"2005-01-21","v":0.0010},{"t":"2005-01-23","v":0.0020},{"t":"2005-01-25","v":0.0010},{"t":"2005-01-27","v":0.0025},{"t":"2005-01-29","v":0.0015},{"t":"2005-01-31","v":0.0030},
      {"t":"2005-02-01","v":0.0010},{"t":"2005-02-03","v":0.0035},{"t":"2005-02-05","v":0.0020},{"t":"2005-02-07","v":0.0045},{"t":"2005-02-10","v":-0.0038},{"t":"2005-02-11","v":0.0030},{"t":"2005-02-13","v":0.0050},{"t":"2005-02-15","v":0.0025},{"t":"2005-02-17","v":0.0040},{"t":"2005-02-19","v":0.0060},{"t":"2005-02-21","v":0.0035},{"t":"2005-02-23","v":0.0045},{"t":"2005-02-25","v":0.0020},{"t":"2005-02-27","v":0.0055},
      {"t":"2005-02-02","v":0.0025},{"t":"2005-02-04","v":0.0040},{"t":"2005-02-06","v":0.0030},{"t":"2005-02-08","v":0.0035},{"t":"2005-02-09","v":0.0025},{"t":"2005-02-12","v":0.0040},{"t":"2005-02-14","v":0.0045},{"t":"2005-02-16","v":0.0035},{"t":"2005-02-18","v":0.0050},{"t":"2005-02-20","v":0.0040},{"t":"2005-02-22","v":0.0055},{"t":"2005-02-24","v":0.0035},{"t":"2005-02-26","v":0.0045},{"t":"2005-02-28","v":0.0050},{"t":"2005-03-02","v":0.0060},{"t":"2005-03-03","v":0.0045},{"t":"2005-03-04","v":0.0055},{"t":"2005-03-06","v":0.0065},{"t":"2005-03-08","v":0.0050},{"t":"2005-03-09","v":0.0070},{"t":"2005-03-10","v":0.0045},{"t":"2005-03-13","v":0.0065},{"t":"2005-03-15","v":0.0055},{"t":"2005-03-17","v":0.0075},{"t":"2005-03-19","v":0.0060},{"t":"2005-03-20","v":0.0050},{"t":"2005-03-23","v":0.0065},{"t":"2005-03-25","v":0.0075},{"t":"2005-03-27","v":0.0060},{"t":"2005-03-28","v":0.0050},{"t":"2005-03-29","v":0.0070},{"t":"2005-03-31","v":0.0065},{"t":"2005-04-03","v":0.0055},
      {"t":"2005-03-01","v":0.0040},{"t":"2005-03-05","v":0.0076},{"t":"2005-03-07","v":0.0030},{"t":"2005-03-11","v":-0.0075},{"t":"2005-03-12","v":0.0055},{"t":"2005-03-14","v":0.0040},{"t":"2005-03-16","v":0.0104},{"t":"2005-03-18","v":0.0065},{"t":"2005-03-21","v":0.0045},{"t":"2005-03-22","v":-0.0014},{"t":"2005-03-24","v":0.0070},{"t":"2005-03-26","v":0.0055},{"t":"2005-03-30","v":0.0060},
      {"t":"2005-04-01","v":0.0040},{"t":"2005-04-02","v":0.0080},{"t":"2005-04-04","v":0.0025},{"t":"2005-04-06","v":0.0015},{"t":"2005-04-07","v":-0.0047},{"t":"2005-04-08","v":-0.0153},{"t":"2005-04-09","v":-0.0035},{"t":"2005-04-10","v":-0.0065},{"t":"2005-04-12","v":-0.0080},{"t":"2005-04-14","v":-0.0055},{"t":"2005-04-15","v":-0.0131},{"t":"2005-04-16","v":-0.0095},{"t":"2005-04-17","v":-0.0070},{"t":"2005-04-18","v":-0.0097},{"t":"2005-04-20","v":-0.0025},{"t":"2005-04-22","v":-0.0040},{"t":"2005-04-23","v":0.0004},{"t":"2005-04-25","v":-0.0020},{"t":"2005-04-27","v":0.0010},{"t":"2005-04-29","v":0.0025},
      {"t":"2005-05-01","v":0.0005},{"t":"2005-05-03","v":0.0030},{"t":"2005-05-05","v":0.0015},{"t":"2005-05-07","v":-0.0015},{"t":"2005-05-09","v":0.0035},{"t":"2005-05-11","v":0.0010},{"t":"2005-05-13","v":0.0025},{"t":"2005-05-15","v":-0.0005},{"t":"2005-05-17","v":0.0040},{"t":"2005-05-19","v":-0.0197},{"t":"2005-05-20","v":0.0020},{"t":"2005-05-22","v":0.0030},{"t":"2005-05-24","v":0.0005},{"t":"2005-05-26","v":0.0045},{"t":"2005-05-28","v":0.0015},{"t":"2005-05-30","v":0.0025},
      {"t":"2005-06-01","v":0.0035},{"t":"2005-06-03","v":0.0010},{"t":"2005-06-05","v":0.0030},{"t":"2005-06-07","v":0.0040},{"t":"2005-06-09","v":0.0020},{"t":"2005-06-11","v":-0.0047},{"t":"2005-06-13","v":0.0035},{"t":"2005-06-15","v":0.0025},{"t":"2005-06-17","v":0.0045},{"t":"2005-06-19","v":0.0015},{"t":"2005-06-21","v":0.0030},{"t":"2005-06-23","v":0.0050},{"t":"2005-06-25","v":0.0080},{"t":"2005-06-27","v":0.0065},{"t":"2005-06-29","v":0.0020},
      {"t":"2005-07-01","v":0.0035},{"t":"2005-07-03","v":-0.0025},{"t":"2005-07-05","v":0.0045},{"t":"2005-07-07","v":0.0030},{"t":"2005-07-09","v":0.0015},{"t":"2005-07-11","v":-0.0034},{"t":"2005-07-13","v":0.0066},{"t":"2005-07-15","v":0.0025},{"t":"2005-07-17","v":0.0040},{"t":"2005-07-19","v":0.0010},{"t":"2005-07-21","v":0.0035},{"t":"2005-07-23","v":0.0050},{"t":"2005-07-25","v":0.0020},{"t":"2005-07-27","v":0.0060},{"t":"2005-07-29","v":0.0005},{"t":"2005-07-31","v":-0.0030},
      {"t":"2005-08-02","v":0.0030},{"t":"2005-08-04","v":0.0015},{"t":"2005-08-06","v":0.0040},{"t":"2005-08-08","v":0.0025},{"t":"2005-08-10","v":0.0083},{"t":"2005-08-12","v":0.0010},{"t":"2005-08-14","v":0.0035},{"t":"2005-08-16","v":0.0020},{"t":"2005-08-18","v":-0.0005},{"t":"2005-08-20","v":0.0030},{"t":"2005-08-22","v":-0.0052},{"t":"2005-08-24","v":-0.0025},{"t":"2005-08-26","v":0.0040},{"t":"2005-08-28","v":0.0015},{"t":"2005-08-30","v":0.0025},
      {"t":"2005-09-01","v":0.0050},{"t":"2005-09-03","v":0.0010},{"t":"2005-09-05","v":0.0060},{"t":"2005-09-07","v":0.0030},{"t":"2005-09-09","v":-0.0025},{"t":"2005-09-11","v":0.0020},{"t":"2005-09-15","v":-0.0092},{"t":"2005-09-16","v":0.0055},{"t":"2005-09-18","v":0.0035},{"t":"2005-09-20","v":0.0015},{"t":"2005-09-24","v":0.0025},{"t":"2005-09-26","v":-0.0030},{"t":"2005-09-27","v":0.0060},{"t":"2005-09-29","v":0.0005},
      {"t":"2005-10-01","v":0.0030},{"t":"2005-10-05","v":0.0015},{"t":"2005-10-07","v":-0.0045},{"t":"2005-10-10","v":-0.0077},{"t":"2005-10-11","v":0.0020},{"t":"2005-10-13","v":0.0005},{"t":"2005-10-15","v":0.0035},{"t":"2005-10-17","v":0.0010},{"t":"2005-10-19","v":-0.0010},{"t":"2005-10-21","v":0.0038},{"t":"2005-10-23","v":0.0025},{"t":"2005-10-25","v":0.0000},{"t":"2005-10-27","v":0.0015},{"t":"2005-10-29","v":-0.0020},{"t":"2005-10-31","v":0.0010},
      {"t":"2005-11-02","v":-0.0005},{"t":"2005-11-04","v":0.0036},{"t":"2005-11-06","v":0.0020},{"t":"2005-11-08","v":-0.0015},{"t":"2005-11-10","v":0.0005},{"t":"2005-11-12","v":-0.0030},{"t":"2005-11-14","v":0.0010},{"t":"2005-11-16","v":-0.0010},{"t":"2005-11-18","v":0.0015},{"t":"2005-11-20","v":-0.0025},{"t":"2005-11-22","v":0.0000},{"t":"2005-11-26","v":-0.0020},{"t":"2005-11-28","v":0.0005},{"t":"2005-11-30","v":-0.0066},
      {"t":"2005-12-02","v":-0.0035},{"t":"2005-12-04","v":-0.0010},{"t":"2005-12-06","v":-0.0040},{"t":"2005-12-08","v":-0.0020},{"t":"2005-12-10","v":-0.0050},{"t":"2005-12-12","v":-0.0015},{"t":"2005-12-14","v":-0.0030},{"t":"2005-12-16","v":0.0000},{"t":"2005-12-18","v":-0.0045},{"t":"2005-12-20","v":-0.0025},{"t":"2005-12-22","v":-0.0055},{"t":"2005-12-24","v":-0.0010},{"t":"2005-12-26","v":-0.0035},{"t":"2005-12-28","v":-0.0020},{"t":"2005-12-30","v":0.0005},
      {"t":"2006-01-01","v":-0.0030},{"t":"2006-01-03","v":-0.0015},{"t":"2006-01-05","v":-0.0045},{"t":"2006-01-07","v":-0.0005},{"t":"2006-01-09","v":-0.0025},{"t":"2006-01-11","v":-0.0010},{"t":"2006-01-12","v":-0.0114},{"t":"2006-01-13","v":-0.0040},{"t":"2006-01-17","v":-0.0020},{"t":"2006-01-19","v":0.0005},{"t":"2006-01-21","v":-0.0030},{"t":"2006-01-22","v":0.0025},{"t":"2006-01-25","v":-0.0015},{"t":"2006-01-27","v":-0.0035},{"t":"2006-01-29","v":-0.0005},{"t":"2006-01-31","v":-0.0025},{"t":"2006-02-02","v":0.0000},{"t":"2006-02-04","v":-0.0015},
      {"t":"2005-05-02","v":0.0020},{"t":"2005-05-04","v":0.0010},{"t":"2005-05-06","v":0.0030},{"t":"2005-05-08","v":0.0015},{"t":"2005-05-10","v":0.0025},{"t":"2005-05-12","v":0.0005},{"t":"2005-05-14","v":0.0030},{"t":"2005-05-16","v":0.0015},{"t":"2005-05-18","v":0.0025},{"t":"2005-05-21","v":0.0035},{"t":"2005-05-23","v":0.0020},{"t":"2005-05-25","v":0.0010},{"t":"2005-05-27","v":0.0030},{"t":"2005-05-29","v":0.0040},{"t":"2005-05-31","v":0.0020},
      {"t":"2005-06-02","v":0.0025},{"t":"2005-06-04","v":0.0040},{"t":"2005-06-06","v":0.0015},{"t":"2005-06-08","v":0.0030},{"t":"2005-06-10","v":0.0035},{"t":"2005-06-12","v":0.0020},{"t":"2005-06-14","v":0.0040},{"t":"2005-06-16","v":0.0030},{"t":"2005-06-18","v":0.0025},{"t":"2005-06-20","v":0.0045},{"t":"2005-06-22","v":0.0030},{"t":"2005-06-24","v":0.0040},{"t":"2005-06-26","v":0.0035},{"t":"2005-06-28","v":0.0045},{"t":"2005-06-30","v":0.0030},
      {"t":"2005-07-02","v":0.0040},{"t":"2005-07-04","v":0.0025},{"t":"2005-07-06","v":0.0035},{"t":"2005-07-08","v":0.0020},{"t":"2005-07-10","v":0.0030},{"t":"2005-07-12","v":0.0040},{"t":"2005-07-14","v":0.0020},{"t":"2005-07-16","v":0.0030},{"t":"2005-07-18","v":0.0025},{"t":"2005-07-20","v":0.0045},{"t":"2005-07-22","v":0.0020},{"t":"2005-07-24","v":0.0030},{"t":"2005-07-26","v":0.0040},{"t":"2005-07-28","v":0.0015},{"t":"2005-07-30","v":0.0030},
      {"t":"2005-08-01","v":0.0020},{"t":"2005-08-03","v":0.0035},{"t":"2005-08-05","v":0.0025},{"t":"2005-08-07","v":0.0015},{"t":"2005-08-09","v":0.0030},{"t":"2005-08-11","v":0.0040},{"t":"2005-08-13","v":0.0020},{"t":"2005-08-15","v":0.0030},{"t":"2005-08-17","v":0.0010},{"t":"2005-08-19","v":0.0025},{"t":"2005-08-21","v":0.0015},{"t":"2005-08-23","v":0.0030},{"t":"2005-08-25","v":0.0020},{"t":"2005-08-27","v":0.0010},{"t":"2005-08-29","v":0.0030},{"t":"2005-08-31","v":0.0020},
      {"t":"2005-09-02","v":0.0035},{"t":"2005-09-04","v":0.0020},{"t":"2005-09-06","v":0.0040},{"t":"2005-09-08","v":0.0015},{"t":"2005-09-10","v":0.0030},{"t":"2005-09-12","v":0.0020},{"t":"2005-09-14","v":0.0010},{"t":"2005-09-17","v":0.0025},{"t":"2005-09-19","v":0.0040},{"t":"2005-09-21","v":0.0020},{"t":"2005-09-23","v":0.0005},{"t":"2005-09-25","v":0.0030},{"t":"2005-09-28","v":0.0015},{"t":"2005-09-30","v":0.0025},
      {"t":"2005-10-02","v":0.0010},{"t":"2005-10-04","v":0.0020},{"t":"2005-10-06","v":0.0030},{"t":"2005-10-08","v":0.0005},{"t":"2005-10-12","v":0.0015},{"t":"2005-10-14","v":0.0025},{"t":"2005-10-16","v":0.0000},{"t":"2005-10-18","v":0.0020},{"t":"2005-10-20","v":0.0010},{"t":"2005-10-22","v":-0.0005},{"t":"2005-10-24","v":0.0015},{"t":"2005-10-26","v":0.0005},{"t":"2005-10-28","v":0.0020},{"t":"2005-10-30","v":-0.0010},
      {"t":"2005-11-01","v":0.0005},{"t":"2005-11-03","v":0.0015},{"t":"2005-11-05","v":-0.0010},{"t":"2005-11-07","v":0.0005},{"t":"2005-11-09","v":-0.0020},{"t":"2005-11-11","v":0.0000},{"t":"2005-11-13","v":-0.0015},{"t":"2005-11-15","v":0.0005},{"t":"2005-11-17","v":-0.0020},{"t":"2005-11-19","v":-0.0005},{"t":"2005-11-21","v":-0.0015},{"t":"2005-11-23","v":-0.0030},{"t":"2005-11-25","v":-0.0010},{"t":"2005-11-27","v":-0.0025},{"t":"2005-11-29","v":-0.0015},
      {"t":"2005-12-01","v":-0.0020},{"t":"2005-12-03","v":-0.0030},{"t":"2005-12-05","v":-0.0020},{"t":"2005-12-07","v":-0.0030},{"t":"2005-12-09","v":-0.0010},{"t":"2005-12-11","v":-0.0035},{"t":"2005-12-13","v":-0.0025},{"t":"2005-12-15","v":-0.0040},{"t":"2005-12-17","v":-0.0020},{"t":"2005-12-19","v":-0.0030},{"t":"2005-12-21","v":-0.0015},{"t":"2005-12-23","v":-0.0035},{"t":"2005-12-25","v":-0.0025},{"t":"2005-12-27","v":-0.0015},{"t":"2005-12-29","v":-0.0030},{"t":"2005-12-31","v":-0.0020},
      {"t":"2006-01-02","v":-0.0025},{"t":"2006-01-04","v":-0.0035},{"t":"2006-01-06","v":-0.0020},{"t":"2006-01-08","v":-0.0010},{"t":"2006-01-10","v":-0.0030},{"t":"2006-01-14","v":-0.0025},{"t":"2006-01-16","v":-0.0015},{"t":"2006-01-18","v":-0.0030},{"t":"2006-01-20","v":-0.0010},{"t":"2006-01-24","v":-0.0020},{"t":"2006-01-26","v":-0.0005},{"t":"2006-01-28","v":-0.0025},{"t":"2006-01-30","v":-0.0015},{"t":"2006-02-01","v":-0.0020},{"t":"2006-02-03","v":-0.0005}
    ]
  },
  "concat": [
    {
      "width": 528, "height": 313,
      "title": {"text": "期間：2004/11/01～2006/02/04 JST", "frame": "bounds", "offset": 2},
      "layer": [
        {
          "data": {"name": "p1"},
          "mark": {"type": "point", "filled": true, "color": "black", "size": 44, "opacity": 1},
          "encoding": {
            "x": {"field": "t", "type": "temporal", "scale": {"type": "utc", "domain": [{"year": 2004, "month": 11, "date": 1, "utc": true}, {"year": 2006, "month": 2, "date": 12, "utc": true}]}, "axis": {"title": null, "format": "%y.%m.%d", "gridDash": {"condition": {"test": "utcyear(datum.value) == 2005 && indexof([0,4,6], utcmonth(datum.value)) >= 0", "value": [6, 3]}, "value": [2, 3]}, "gridWidth": {"condition": {"test": "utcyear(datum.value) == 2005 && indexof([0,4,6], utcmonth(datum.value)) >= 0", "value": 1.6}, "value": 1}, "values": [{"year": 2004, "month": 11, "date": 1, "utc": true}, {"year": 2005, "month": 1, "date": 1, "utc": true}, {"year": 2005, "month": 3, "date": 1, "utc": true}, {"year": 2005, "month": 5, "date": 1, "utc": true}, {"year": 2005, "month": 7, "date": 1, "utc": true}, {"year": 2005, "month": 9, "date": 1, "utc": true}, {"year": 2005, "month": 11, "date": 1, "utc": true}, {"year": 2006, "month": 1, "date": 1, "utc": true}]}},
            "y": {"field": "v", "type": "quantitative", "scale": {"domain": [-0.04, 0.04], "nice": false, "zero": false}, "axis": {"values": [-0.04, -0.03, -0.02, -0.01, 0, 0.01, 0.02, 0.03, 0.04], "tickCount": 12, "format": ".3f", "gridDash": {"condition": {"test": "indexof([20,-10,-30], round(datum.value*1000)) >= 0", "value": [7, 4]}, "value": [2, 3]}, "gridWidth": {"condition": {"test": "indexof([20,-10,-30], round(datum.value*1000)) >= 0", "value": 1.4}, "value": 1}, "title": "(m)", "titleAngle": 0, "titleX": -34, "titleY": -6, "titleAlign": "left", "titleBaseline": "bottom", "titleFontSize": 8, "titleFontWeight": "normal"}}
          }
        },
        {"data": {"values": [{}]}, "mark": {"type": "rule", "color": "black", "strokeWidth": 2}, "encoding": {"y": {"datum": 0}}},
        {"data": {"values": [{"label": "(1)  S浅間山１(035046)  -  M浅間鎌原Ａ(059069)　 斜距離"}]}, "mark": {"type": "text", "align": "left", "baseline": "bottom", "dx": 9, "dy": -1, "fontSize": 10, "font": "Noto Sans CJK JP", "color": "black"}, "encoding": {"x": {"datum": {"year": 2004, "month": 11, "date": 1, "utc": true}}, "y": {"datum": 0.04}, "text": {"field": "label"}}},
        {"data": {"values": [{"label": "基準値 7255.812m"}]}, "mark": {"type": "text", "align": "right", "baseline": "bottom", "dx": 0, "dy": -1, "fontSize": 9.5, "font": "Noto Sans CJK JP", "color": "black"}, "encoding": {"x": {"datum": {"year": 2006, "month": 2, "date": 12, "utc": true}}, "y": {"datum": 0.04}, "text": {"field": "label"}}},
        {"data": {"values": [{"label": "2005/10/27  M浅間鎌原～M浅間鎌原Ａ  移転"}]}, "mark": {"type": "text", "align": "left", "baseline": "middle", "fontSize": 15, "font": "Noto Sans CJK JP", "color": "black"}, "encoding": {"x": {"datum": {"year": 2005, "month": 1, "date": 27, "utc": true}}, "y": {"datum": 0.0326}, "text": {"field": "label"}}}
      ]
    },
    {
      "width": 530, "height": 313,
      "title": {"text": "期間：2004/11/01～2006/02/04 JST", "frame": "group", "dx": 5, "offset": 4},
      "layer": [
        {
          "data": {"name": "p3"},
          "mark": {"type": "point", "filled": true, "color": "black", "size": 44, "opacity": 1},
          "encoding": {
            "x": {"field": "t", "type": "temporal", "scale": {"type": "utc", "domain": [{"year": 2004, "month": 11, "date": 1, "utc": true}, {"year": 2006, "month": 2, "date": 12, "utc": true}]}, "axis": {"title": null, "format": "%y.%m.%d", "gridDash": {"condition": {"test": "utcyear(datum.value) == 2005 && indexof([0,8], utcmonth(datum.value)) >= 0", "value": [6, 3]}, "value": [2, 3]}, "gridWidth": {"condition": {"test": "utcyear(datum.value) == 2005 && indexof([0,8], utcmonth(datum.value)) >= 0", "value": 1.6}, "value": 1}, "values": [{"year": 2004, "month": 11, "date": 1, "utc": true}, {"year": 2005, "month": 1, "date": 1, "utc": true}, {"year": 2005, "month": 3, "date": 1, "utc": true}, {"year": 2005, "month": 5, "date": 1, "utc": true}, {"year": 2005, "month": 7, "date": 1, "utc": true}, {"year": 2005, "month": 9, "date": 1, "utc": true}, {"year": 2005, "month": 11, "date": 1, "utc": true}, {"year": 2006, "month": 1, "date": 1, "utc": true}]}},
            "y": {"field": "v", "type": "quantitative", "scale": {"domain": [-0.04, 0.04], "nice": false, "zero": false}, "axis": {"values": [-0.04, -0.03, -0.02, -0.01, 0, 0.01, 0.02, 0.03, 0.04], "tickCount": 12, "format": ".3f", "gridDash": {"condition": {"test": "indexof([20,10,-30], round(datum.value*1000)) >= 0", "value": [7, 4]}, "value": [2, 3]}, "gridWidth": {"condition": {"test": "indexof([20,10,-30], round(datum.value*1000)) >= 0", "value": 1.4}, "value": 1}, "title": null}}
          }
        },
        {"data": {"values": [{}]}, "mark": {"type": "rule", "color": "black", "strokeWidth": 2}, "encoding": {"y": {"datum": 0}}},
        {"data": {"values": [{"label": "(3)  M浅間鎌原Ａ(059069)  -  M浅間砂塚Ａ(059070)　 斜距離"}]}, "mark": {"type": "text", "align": "left", "baseline": "bottom", "dx": 9, "dy": -1, "fontSize": 10, "font": "Noto Sans CJK JP", "color": "black"}, "encoding": {"x": {"datum": {"year": 2004, "month": 11, "date": 1, "utc": true}}, "y": {"datum": 0.04}, "text": {"field": "label"}}},
        {"data": {"values": [{"label": "基準値 8231.839m"}]}, "mark": {"type": "text", "align": "right", "baseline": "bottom", "dx": 0, "dy": -1, "fontSize": 9.5, "font": "Noto Sans CJK JP", "color": "black"}, "encoding": {"x": {"datum": {"year": 2006, "month": 2, "date": 12, "utc": true}}, "y": {"datum": 0.04}, "text": {"field": "label"}}},
        {"data": {"values": [{"label": ["2005/10/27  M浅間鎌原～M浅間鎌原Ａ  移転", "2005/10/27  M浅間砂塚～M浅間砂塚Ａ  移転"]}]}, "mark": {"type": "text", "align": "left", "baseline": "middle", "fontSize": 15, "lineHeight": 19, "font": "Noto Sans CJK JP", "color": "black"}, "encoding": {"x": {"datum": {"year": 2005, "month": 1, "date": 24, "utc": true}}, "y": {"datum": 0.0365}, "text": {"field": "label"}}}
      ]
    },
    {
      "width": 530, "height": 313,
      "layer": [
        {
          "data": {"name": "p2"},
          "mark": {"type": "point", "filled": true, "size": 44, "opacity": 1},
          "encoding": {
            "x": {"field": "t", "type": "temporal", "scale": {"type": "utc", "domain": [{"year": 2004, "month": 11, "date": 1, "utc": true}, {"year": 2006, "month": 2, "date": 12, "utc": true}]}, "axis": {"title": null, "format": "%y.%m.%d", "gridDash": {"condition": {"test": "utcyear(datum.value) == 2005 && indexof([0,4,6], utcmonth(datum.value)) >= 0", "value": [6, 3]}, "value": [2, 3]}, "gridWidth": {"condition": {"test": "utcyear(datum.value) == 2005 && indexof([0,4,6], utcmonth(datum.value)) >= 0", "value": 1.6}, "value": 1}, "values": [{"year": 2004, "month": 11, "date": 1, "utc": true}, {"year": 2005, "month": 1, "date": 1, "utc": true}, {"year": 2005, "month": 3, "date": 1, "utc": true}, {"year": 2005, "month": 5, "date": 1, "utc": true}, {"year": 2005, "month": 7, "date": 1, "utc": true}, {"year": 2005, "month": 9, "date": 1, "utc": true}, {"year": 2005, "month": 11, "date": 1, "utc": true}, {"year": 2006, "month": 1, "date": 1, "utc": true}]}},
            "y": {"field": "v", "type": "quantitative", "scale": {"domain": [-0.04, 0.04], "nice": false, "zero": false}, "axis": {"values": [-0.04, -0.03, -0.02, -0.01, 0, 0.01, 0.02, 0.03, 0.04], "tickCount": 12, "format": ".3f", "gridDash": {"condition": {"test": "indexof([20,10,-20], round(datum.value*1000)) >= 0", "value": [7, 4]}, "value": [2, 3]}, "gridWidth": {"condition": {"test": "indexof([20,10,-20], round(datum.value*1000)) >= 0", "value": 1.4}, "value": 1}, "title": "(m)", "titleAngle": 0, "titleX": -34, "titleY": -6, "titleAlign": "left", "titleBaseline": "bottom", "titleFontSize": 8, "titleFontWeight": "normal"}},
            "color": {"datum": "[F2:最終解]", "type": "nominal", "scale": {"range": ["black"]}, "legend": {"title": null, "orient": "none", "legendX": -4, "legendY": 338, "symbolType": "M-1,0A1,1,0,1,1,1,0A1,1,0,1,1,-1,0ZM1,0L2.8,0", "symbolSize": 70, "symbolFillColor": "black", "symbolStrokeColor": "black", "symbolStrokeWidth": 1.5, "labelOffset": 11, "labelFontSize": 11, "labelFont": "Noto Sans CJK JP", "labelColor": "black"}}
          }
        },
        {"data": {"values": [{}]}, "mark": {"type": "rule", "color": "black", "strokeWidth": 2}, "encoding": {"y": {"datum": 0}}},
        {"data": {"values": [{"label": "(2)  S浅間山１(035046)  -  M浅間砂塚Ａ(059070)　 斜距離"}]}, "mark": {"type": "text", "align": "left", "baseline": "bottom", "dx": 9, "dy": -1, "fontSize": 10, "font": "Noto Sans CJK JP", "color": "black"}, "encoding": {"x": {"datum": {"year": 2004, "month": 11, "date": 1, "utc": true}}, "y": {"datum": 0.04}, "text": {"field": "label"}}},
        {"data": {"values": [{"label": "基準値 10087.976m"}]}, "mark": {"type": "text", "align": "right", "baseline": "bottom", "dx": 0, "dy": -1, "fontSize": 9.5, "font": "Noto Sans CJK JP", "color": "black"}, "encoding": {"x": {"datum": {"year": 2006, "month": 2, "date": 12, "utc": true}}, "y": {"datum": 0.04}, "text": {"field": "label"}}}
      ]
    }
  ]
}
